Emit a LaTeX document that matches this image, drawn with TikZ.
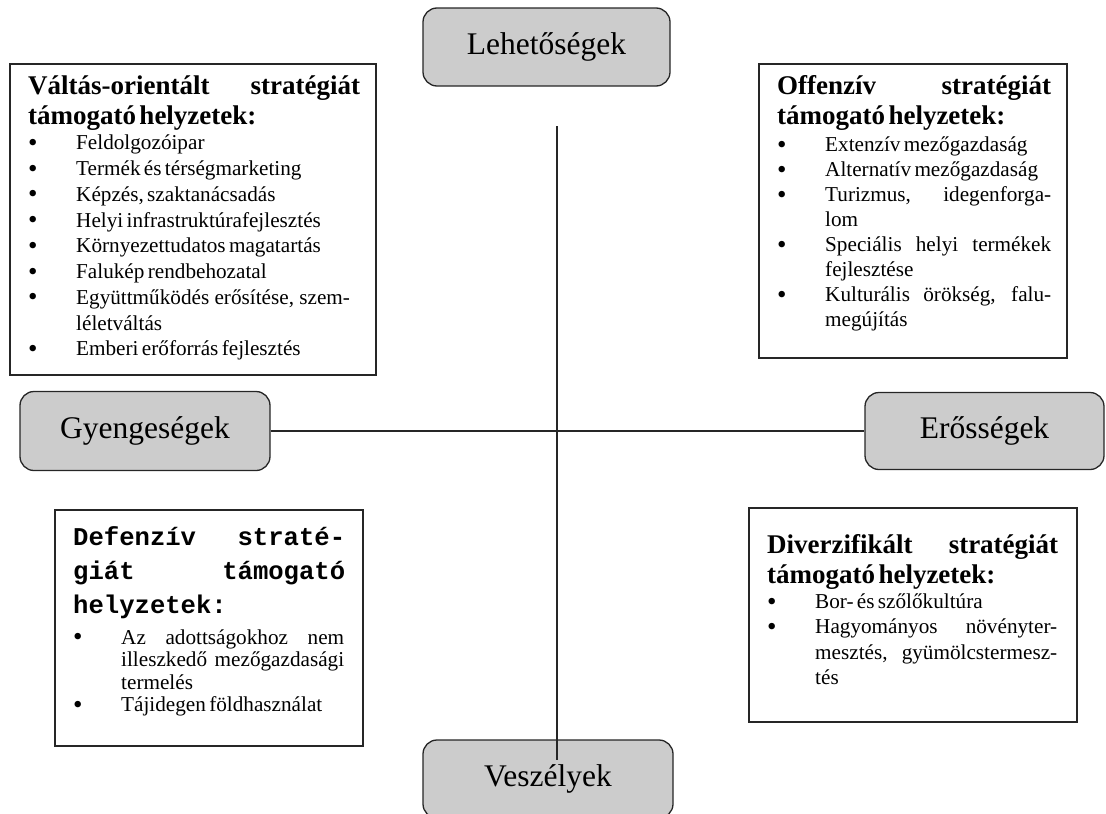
\documentclass[tikz,border=0pt]{standalone}
\usepackage{fontspec}
\setmainfont{Liberation Serif}
\newfontfamily\monofnt{Liberation Mono}
\newlength\itmw
\newcommand\jline[2][\hsize]{\leavevmode\hbox to #1{\spaceskip=\fontdimen2\font plus 1fil\xspaceskip=\spaceskip #2}}
\newcommand\nl{\hfil\break}
\newcommand\itm[1]{\par\noindent\hangindent=48pt\hangafter=1\makebox[48pt][l]{\raisebox{-1.5pt}{\fontsize{27}{0}\selectfont\textbullet}}#1\par}
\newcommand\ttlfont{\fontsize{27}{30}\selectfont\bfseries}
\newcommand\bodyfont[1]{\rmfamily\fontsize{21.2}{#1}\selectfont\mdseries}
\tikzset{
  lbl/.style={draw=black!85, line width=1.3pt, fill=black!20, rounded corners=14pt, inner sep=0pt, font=\fontsize{31.5}{36}\selectfont},
  txtframe/.style={draw=black!85, line width=1.3pt},
  txt/.style={anchor=north west, inner sep=0pt, align=left},
  axisline/.style={draw=black!85, line width=1.2pt}
}
\begin{document}
\begin{tikzpicture}[x=1pt,y=-1pt]
		\useasboundingbox (0,0) rectangle (1106,814);
		\node [lbl, minimum width=247pt, minimum height=78pt] (leh) at (546.5,47) {Lehetőségek};
		\node [lbl, minimum width=250pt, minimum height=79pt] (gyen) at (145,431) {Gyengeségek};
		\node [lbl, minimum width=239pt, minimum height=77pt] (ero) at (984.5,431) {Erősségek};
		\node [lbl, minimum width=250pt, minimum height=78pt] (vesz) at (548,779) {Veszélyek};

		\draw [axisline] (gyen) -- (ero);
		\coordinate (vtop) at (557,126);
		\coordinate (vbot) at (557,760);
		\draw [axisline] (vtop) -- (vbot);

		\draw [txtframe] (10,64) rectangle (376,375);
		\node [txt, text width=332pt] (valtas) at (28,70) {%
			\ttlfont\rule{0pt}{24pt}\jline{Váltás-orientált stratégiát}\\ támogató helyzetek:\par
			\bodyfont{25.75}\setlength\itmw{250pt}%
			\itm{Feldolgozóipar}
			\itm{Termék és térségmarketing}
			\itm{Képzés, szaktanácsadás}
			\itm{Helyi infrastruktúrafejlesztés}
			\itm{Környezettudatos magatartás}
			\itm{Falukép rendbehozatal}
			\itm{\jline[\itmw]{Együttműködés erősítése, szem-}\nl léletváltás}
			\itm{Emberi erőforrás fejlesztés}};

		\draw [txtframe] (759,64) rectangle (1067,358);
		\node [txt, text width=274pt] (offenziv) at (777,70) {%
			\ttlfont\rule{0pt}{24pt}\jline{Offenzív stratégiát}\\ támogató helyzetek:\par
			\vspace{2.5pt}\bodyfont{25}\setlength\itmw{226pt}%
			\itm{Extenzív mezőgazdaság}
			\itm{Alternatív mezőgazdaság}
			\itm{\jline[\itmw]{Turizmus, idegenforga-}\nl lom}
			\itm{\jline[\itmw]{Speciális helyi termékek}\nl fejlesztése}
			\itm{\jline[\itmw]{Kulturális örökség, falu-}\nl megújítás}};

		\draw [txtframe] (55,510) rectangle (363,746);
		\node [txt, text width=272pt] (defenziv) at (73,521) {%
			\monofnt\fontsize{25.6}{34}\selectfont\bfseries\rule{0pt}{24pt}\jline{Defenzív straté-}\\ \jline{giát támogató}\\ helyzetek:\par
			\vspace{8.5pt}\bodyfont{22.5}\setlength\itmw{223pt}%
			\itm{\jline[\itmw]{Az adottságokhoz nem}\nl \jline[\itmw]{illeszkedő mezőgazdasági}\nl termelés}
			\itm{Tájidegen földhasználat}};

		\draw [txtframe] (749,508) rectangle (1077,722);
		\node [txt, text width=291pt] (diverz) at (767,529) {%
			\ttlfont\rule{0pt}{24pt}\jline{Diverzifikált stratégiát}\\ támogató helyzetek:\par
			\bodyfont{25.3}\setlength\itmw{242pt}%
			\itm{Bor- és szőlőkultúra}
			\itm{\jline[\itmw]{Hagyományos növényter-}\nl \jline[\itmw]{mesztés, gyümölcstermesz-}\nl tés}};
\end{tikzpicture}
\end{document}
